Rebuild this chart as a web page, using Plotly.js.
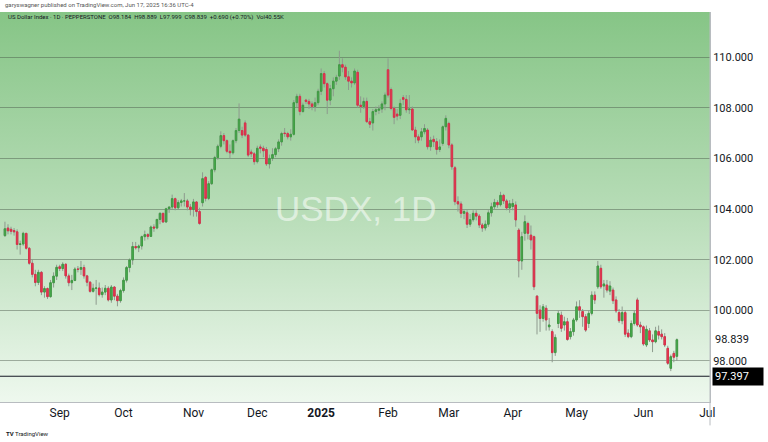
<!DOCTYPE html>
<html>
<head>
<meta charset="utf-8">
<script src="https://cdn.plot.ly/plotly-3.0.1.min.js"></script>
<style>
html,body{margin:0;padding:0;background:#fff;}
#chart{width:768px;height:442px;}
</style>
</head>
<body>
<div id="chart"></div>
<script>
// ---- DATA (daily bars, US Dollar Index, Pepperstone) ----
const dates = [
 '2024-08-07','2024-08-08','2024-08-09','2024-08-12','2024-08-13','2024-08-14','2024-08-15','2024-08-16','2024-08-19','2024-08-20','2024-08-21','2024-08-22','2024-08-23','2024-08-26','2024-08-27','2024-08-28','2024-08-29','2024-08-30',
 '2024-09-02','2024-09-03','2024-09-04','2024-09-05','2024-09-06','2024-09-09','2024-09-10','2024-09-11','2024-09-12','2024-09-13','2024-09-16','2024-09-17','2024-09-18','2024-09-19','2024-09-20','2024-09-23','2024-09-24','2024-09-25','2024-09-26','2024-09-27','2024-09-30',
 '2024-10-01','2024-10-02','2024-10-03','2024-10-04','2024-10-07','2024-10-08','2024-10-09','2024-10-10','2024-10-11','2024-10-14','2024-10-15','2024-10-16','2024-10-17','2024-10-18','2024-10-21','2024-10-22','2024-10-23','2024-10-24','2024-10-25','2024-10-28','2024-10-29','2024-10-30','2024-10-31',
 '2024-11-01','2024-11-04','2024-11-05','2024-11-06','2024-11-07','2024-11-08','2024-11-11','2024-11-12','2024-11-13','2024-11-14','2024-11-15','2024-11-18','2024-11-19','2024-11-20','2024-11-21','2024-11-22','2024-11-25','2024-11-26','2024-11-27','2024-11-28','2024-11-29',
 '2024-12-02','2024-12-03','2024-12-04','2024-12-05','2024-12-06','2024-12-09','2024-12-10','2024-12-11','2024-12-12','2024-12-13','2024-12-16','2024-12-17','2024-12-18','2024-12-19','2024-12-20','2024-12-23','2024-12-24','2024-12-26','2024-12-27','2024-12-30','2024-12-31',
 '2025-01-02','2025-01-03','2025-01-06','2025-01-07','2025-01-08','2025-01-09','2025-01-10','2025-01-13','2025-01-14','2025-01-15','2025-01-16','2025-01-17','2025-01-20','2025-01-21','2025-01-22','2025-01-23','2025-01-24','2025-01-27','2025-01-28','2025-01-29','2025-01-30','2025-01-31',
 '2025-02-03','2025-02-04','2025-02-05','2025-02-06','2025-02-07','2025-02-10','2025-02-11','2025-02-12','2025-02-13','2025-02-14','2025-02-17','2025-02-18','2025-02-19','2025-02-20','2025-02-21','2025-02-24','2025-02-25','2025-02-26','2025-02-27','2025-02-28',
 '2025-03-03','2025-03-04','2025-03-05','2025-03-06','2025-03-07','2025-03-10','2025-03-11','2025-03-12','2025-03-13','2025-03-14','2025-03-17','2025-03-18','2025-03-19','2025-03-20','2025-03-21','2025-03-24','2025-03-25','2025-03-26','2025-03-27','2025-03-28','2025-03-31',
 '2025-04-01','2025-04-02','2025-04-03','2025-04-04','2025-04-07','2025-04-08','2025-04-09','2025-04-10','2025-04-11','2025-04-14','2025-04-15','2025-04-16','2025-04-17','2025-04-21','2025-04-22','2025-04-23','2025-04-24','2025-04-25','2025-04-28','2025-04-29','2025-04-30',
 '2025-05-01','2025-05-02','2025-05-05','2025-05-06','2025-05-07','2025-05-08','2025-05-09','2025-05-12','2025-05-13','2025-05-14','2025-05-15','2025-05-16','2025-05-19','2025-05-20','2025-05-21','2025-05-22','2025-05-23','2025-05-26','2025-05-27','2025-05-28','2025-05-29','2025-05-30',
 '2025-06-02','2025-06-03','2025-06-04','2025-06-05','2025-06-06','2025-06-09','2025-06-10','2025-06-11','2025-06-12','2025-06-13','2025-06-16','2025-06-17'
];
const open = [
 102.95,103.25,103.20,103.15,103.10,102.60,102.62,103.04,102.45,101.86,101.42,101.10,101.50,100.72,100.86,100.54,101.09,101.35,
 101.72,101.65,101.82,101.36,101.09,101.18,101.63,101.62,101.69,101.36,101.11,100.75,100.87,100.88,100.62,100.72,100.87,100.41,100.92,100.56,100.38,
 100.78,101.19,101.69,101.99,102.52,102.47,102.54,102.91,102.99,102.92,103.29,103.25,103.59,103.83,103.49,104.01,104.08,104.41,104.05,104.26,104.32,104.32,104.08,
 103.98,104.28,103.90,104.25,105.25,104.42,105.00,105.55,106.03,106.48,106.90,106.70,106.28,106.22,106.70,107.10,107.10,107.40,106.92,106.25,106.18,
 105.87,106.45,106.40,106.35,105.78,106.00,106.15,106.38,106.65,107.00,106.98,106.85,106.95,108.20,108.45,107.85,108.30,108.25,108.15,108.05,108.20,
 108.65,109.35,108.95,108.30,108.75,109.05,109.25,109.70,109.60,109.22,109.05,108.98,109.40,108.10,108.05,108.25,107.45,107.40,107.85,107.90,107.95,108.15,
 109.50,108.72,107.97,107.75,107.70,108.40,108.33,107.92,107.95,107.12,106.85,106.85,107.05,107.12,106.46,106.75,106.66,106.35,106.59,107.25,
 107.38,106.53,105.63,104.29,104.20,103.83,103.85,103.40,103.58,103.83,103.72,103.37,103.25,103.40,103.85,104.09,104.26,104.17,104.54,104.32,104.04,
 104.10,104.16,103.17,101.95,103.04,103.43,102.97,102.91,100.56,100.01,99.68,100.08,99.35,99.16,98.33,99.48,99.81,99.42,99.55,98.96,99.16,
 99.62,100.14,99.95,99.75,99.48,99.88,100.60,100.93,101.66,100.96,101.00,100.76,100.80,100.41,99.91,99.59,99.91,99.10,98.96,99.48,100.41,99.42,
 99.35,98.63,99.19,98.83,98.76,99.16,99.06,98.96,98.50,97.71,98.30,98.184
];
const high = [
 103.50,103.40,103.30,103.25,103.20,102.75,103.10,103.05,102.50,102.00,101.60,101.60,101.55,100.95,100.90,101.20,101.50,101.80,
 101.80,101.90,101.85,101.45,101.40,101.70,101.75,101.95,101.80,101.40,101.15,101.05,101.20,101.10,100.90,101.00,100.95,101.00,100.95,100.65,100.85,
 101.30,101.75,102.05,102.70,102.70,102.60,102.95,103.15,103.05,103.35,103.40,103.60,103.87,103.85,104.05,104.10,104.57,104.45,104.35,104.40,104.63,104.40,104.20,
 104.40,104.30,104.05,105.45,105.30,105.10,105.60,106.10,106.55,107.07,107.00,106.75,106.55,106.75,107.20,108.17,107.25,107.50,106.95,106.35,106.25,
 106.50,106.55,106.50,106.45,106.15,106.40,106.45,106.75,107.05,107.20,107.05,107.15,108.30,108.55,108.55,108.20,108.35,108.35,108.25,108.40,108.75,
 109.55,109.45,109.00,108.90,109.20,109.30,110.25,109.95,109.70,109.45,109.20,109.55,109.50,108.45,108.40,108.40,107.60,107.95,108.05,108.10,108.25,108.60,
 109.95,108.80,108.05,107.95,108.35,108.50,108.50,108.50,108.05,107.25,106.95,107.20,107.35,107.20,106.85,106.90,106.80,106.75,107.30,107.70,
 107.45,106.60,105.70,104.50,104.30,104.00,103.95,103.80,103.95,103.95,103.80,103.45,103.55,103.95,104.25,104.40,104.35,104.68,104.60,104.40,104.35,
 104.40,104.30,103.25,103.10,103.75,103.50,103.35,102.95,100.60,100.20,100.25,100.20,99.70,99.25,99.05,100.00,99.95,99.75,99.70,99.30,99.70,
 100.35,100.40,100.05,99.85,100.00,100.75,100.75,101.95,101.80,101.20,101.20,101.15,100.90,100.55,100.05,100.15,100.00,99.25,99.60,100.00,100.50,99.55,
 99.40,99.40,99.30,99.05,99.35,99.40,99.25,99.10,98.60,98.25,98.40,98.889
];
const low = [
 102.90,103.00,103.00,102.95,102.40,102.20,102.55,102.40,101.80,101.30,100.95,101.00,100.60,100.50,100.45,100.50,100.90,101.20,
 101.55,101.55,101.25,100.95,100.80,101.15,101.50,101.40,101.25,100.95,100.70,100.70,100.22,100.55,100.50,100.60,100.35,100.30,100.40,100.16,100.30,
 100.70,101.10,101.50,101.80,102.40,102.30,102.40,102.75,102.80,102.90,103.10,103.20,103.40,103.45,103.45,103.85,104.00,103.95,104.00,104.10,104.10,103.95,103.75,
 103.70,103.70,103.38,104.10,104.30,104.35,104.95,105.45,105.95,106.40,106.55,106.20,106.00,106.15,106.60,107.00,106.80,106.85,106.05,106.05,105.75,
 105.80,106.20,106.05,105.70,105.60,105.90,106.05,106.25,106.50,106.85,106.75,106.70,106.90,108.00,107.70,107.80,108.15,107.95,107.90,107.85,108.10,
 108.50,108.80,107.75,108.10,108.45,108.90,109.10,109.40,109.10,108.70,108.80,108.90,108.00,107.80,107.95,107.40,107.20,107.10,107.70,107.75,107.80,107.90,
 108.40,107.90,107.35,107.50,107.55,108.10,107.80,107.75,107.10,106.60,106.60,106.70,106.95,106.35,106.30,106.45,106.15,106.25,106.50,107.10,
 106.40,105.55,104.15,103.90,103.65,103.60,103.25,103.30,103.50,103.55,103.25,103.10,103.15,103.30,103.70,104.00,104.05,104.10,104.20,103.95,103.85,
 103.95,103.30,101.30,101.60,102.75,102.80,102.40,100.80,99.05,99.15,99.55,99.20,99.20,97.95,98.20,99.30,99.15,99.20,98.80,98.85,99.00,
 99.55,99.70,99.35,99.15,99.30,99.80,100.25,100.85,100.85,100.50,100.70,100.60,100.25,99.90,99.50,99.45,98.95,98.90,98.90,99.40,99.35,99.10,
 98.60,98.55,98.75,98.35,98.70,98.85,98.85,98.55,97.85,97.60,97.95,97.999
];
const close = [
 103.22,103.14,103.12,103.10,102.60,102.62,103.04,102.45,101.86,101.42,101.10,101.50,100.72,100.86,100.54,101.09,101.35,101.70,
 101.65,101.82,101.36,101.09,101.18,101.63,101.62,101.69,101.36,101.11,100.75,100.87,100.88,100.62,100.72,100.87,100.41,100.92,100.56,100.38,100.78,
 101.19,101.69,101.99,102.52,102.47,102.54,102.91,102.99,102.92,103.29,103.25,103.59,103.83,103.49,104.01,104.08,104.41,104.05,104.26,104.32,104.32,104.08,103.98,
 104.28,103.90,103.43,105.20,104.42,105.00,105.55,106.03,106.48,106.90,106.70,106.28,106.22,106.70,107.10,107.55,106.92,106.92,106.13,106.18,105.87,
 106.40,106.40,106.30,105.78,106.00,106.15,106.38,106.65,106.98,106.98,106.85,106.95,108.20,108.45,107.85,108.10,108.25,108.15,108.05,108.20,108.65,
 109.35,108.95,108.30,108.75,109.05,109.20,109.70,109.60,109.22,109.05,108.98,109.45,108.10,108.05,108.25,107.45,107.35,107.85,107.92,107.95,108.15,108.50,
 108.50,107.97,107.62,107.67,108.17,108.33,107.92,107.95,107.12,106.85,106.72,107.05,107.18,106.46,106.72,106.66,106.35,106.45,107.25,107.58,
 106.53,105.67,104.29,104.20,103.83,103.90,103.40,103.58,103.83,103.72,103.37,103.25,103.40,103.85,104.09,104.26,104.17,104.54,104.32,104.04,104.21,
 104.22,103.57,101.95,102.91,103.50,103.04,102.78,100.93,99.88,99.68,100.14,99.62,99.42,98.33,98.93,99.88,99.29,99.55,98.85,99.16,99.62,
 100.14,100.01,99.75,99.22,99.88,100.60,100.41,101.75,100.93,101.04,100.80,100.96,100.38,99.98,99.59,99.91,99.06,98.96,99.48,99.88,99.42,99.35,
 98.67,99.25,98.83,98.76,99.19,99.02,98.96,98.63,97.91,98.17,98.149,98.839
];
const priceLine = 97.397;
const monthTickDates = ['2024-09-02','2024-10-01','2024-11-01','2024-12-02','2025-01-02','2025-02-03','2025-03-03','2025-04-01','2025-05-01','2025-06-02','2025-07-01'];
const monthTickLabels = ['Sep','Oct','Nov','Dec','<b>2025</b>','Feb','Mar','Apr','May','Jun','Jul'];
const priceTicks = [98,100,102,104,106,108,110];
const headerTop = 'garyswagner published on TradingView.com, Jun 17, 2025 16:36 UTC-4';
const headerLegend = 'US Dollar Index · 1D · PEPPERSTONE&nbsp;&nbsp;O98.184&nbsp;&nbsp;H98.889&nbsp;&nbsp;L97.999&nbsp;&nbsp;C98.839&nbsp;&nbsp;+0.690 (+0.70%)&nbsp;&nbsp;Vol40.55K';
const watermark = 'USDX, 1D';

// ---- BUILD ----
const xs = dates.map(d => d + ' 12:00');
const bodyHi = open.map((o, i) => Math.max(o, close[i]));
const bodyLo = open.map((o, i) => Math.min(o, close[i]));
const lastClose = close[close.length - 1];

const wickColor = '#8e9a8e';
const wicks = {
  type: 'candlestick', x: xs, open: open, high: high, low: low, close: close,
  increasing: {line: {color: wickColor, width: 1}, fillcolor: wickColor},
  decreasing: {line: {color: wickColor, width: 1}, fillcolor: wickColor},
  hoverinfo: 'skip', showlegend: false
};
const bodies = {
  type: 'candlestick', x: xs, open: open, high: bodyHi, low: bodyLo, close: close,
  increasing: {line: {color: '#3f9b43', width: 1}, fillcolor: '#4caf50'},
  decreasing: {line: {color: '#d9304a', width: 1}, fillcolor: '#ec3a52'},
  hoverinfo: 'skip', showlegend: false
};

const gradSvg = "<svg xmlns='http://www.w3.org/2000/svg' width='10' height='100' preserveAspectRatio='none'>" +
  "<defs><linearGradient id='g' x1='0' y1='0' x2='0' y2='1'>" +
  "<stop offset='0' stop-color='#86c586'/><stop offset='0.5' stop-color='#b6dcb6'/><stop offset='1' stop-color='#eef8ee'/>" +
  "</linearGradient></defs><rect width='10' height='100' fill='url(#g)'/></svg>";
const gradUri = 'data:image/svg+xml;charset=utf-8,' + encodeURIComponent(gradSvg);

const FONT = 'Roboto, "DejaVu Sans", sans-serif';

const layout = {
  width: 768, height: 442,
  margin: {l: 0, r: 58, t: 12, b: 40},
  paper_bgcolor: '#ffffff', plot_bgcolor: '#ffffff',
  showlegend: false,
  font: {family: FONT, color: '#131722'},
  xaxis: {
    type: 'date',
    range: ['2024-08-05 21:00', '2025-07-02 09:30'],
    rangebreaks: [{bounds: ['sat', 'mon']}, {values: ['2024-12-25', '2025-01-01', '2025-04-18']}],
    rangeslider: {visible: false},
    tickmode: 'array',
    tickvals: monthTickDates.map(d => d + ' 12:00'),
    ticktext: monthTickLabels,
    tickfont: {size: 12, color: '#131722', family: FONT},
    showgrid: false, zeroline: false, ticks: '',
    showline: true, linecolor: '#b8bcc0', linewidth: 1,
    fixedrange: true
  },
  yaxis: {
    side: 'right',
    range: [96.38, 111.78],
    tickmode: 'array',
    tickvals: priceTicks,
    ticktext: priceTicks.map(v => v.toFixed(3)),
    tickfont: {size: 11, color: '#131722', family: FONT},
    showgrid: true, gridcolor: 'rgba(70,85,70,0.45)', gridwidth: 1,
    zeroline: false, ticks: '',
    showline: true, linecolor: '#b8bcc0', linewidth: 1,
    fixedrange: true
  },
  images: [{
    source: gradUri, xref: 'paper', yref: 'paper', x: 0, y: 1, sizex: 1, sizey: 1,
    xanchor: 'left', yanchor: 'top', sizing: 'stretch', layer: 'below'
  }],
  shapes: [
    {type: 'line', xref: 'paper', yref: 'y', x0: 0, x1: 1, y0: priceLine, y1: priceLine,
     line: {color: '#131722', width: 1}},
    {type: 'line', xref: 'paper', yref: 'paper', x0: 1, x1: 1, y0: -0.06, y1: 1,
     line: {color: '#b8bcc0', width: 1}}
  ],
  annotations: [
    {text: headerTop, xref: 'paper', yref: 'paper', x: 0.004, y: 1.018, xanchor: 'left', yanchor: 'middle',
     showarrow: false, font: {size: 6, color: '#555', family: FONT}},
    {text: headerLegend, xref: 'paper', yref: 'paper', x: 0.009, y: 0.987, xanchor: 'left', yanchor: 'middle',
     showarrow: false, font: {size: 6, color: '#131722', family: FONT}},
    {text: watermark, xref: 'paper', yref: 'paper', x: 0.5, y: 0.497, xanchor: 'center', yanchor: 'middle',
     showarrow: false, font: {size: 35, color: 'rgba(255,255,255,0.55)', family: '"Liberation Sans", Arial, sans-serif'}},
    {text: lastClose.toFixed(3), xref: 'paper', yref: 'y', x: 1, y: lastClose, xanchor: 'left', yanchor: 'middle',
     xshift: 2, showarrow: false, bgcolor: '#ffffff', borderpad: 2, width: 44, align: 'left',
     font: {size: 11, color: '#131722', family: FONT}},
    {text: priceLine.toFixed(3), xref: 'paper', yref: 'y', x: 1, y: priceLine, xanchor: 'left', yanchor: 'middle',
     xshift: 2, showarrow: false, bgcolor: '#000000', borderpad: 2, width: 46, align: 'left',
     font: {size: 11, color: '#ffffff', family: FONT}},
    {text: '<b>TV</b> TradingView', xref: 'paper', yref: 'paper', x: 0.006, y: -0.082, xanchor: 'left', yanchor: 'middle',
     showarrow: false, font: {size: 6, color: '#131722', family: FONT}}
  ]
};

Plotly.newPlot('chart', [wicks, bodies], layout, {staticPlot: true, displayModeBar: false});
</script>
</body>
</html>
